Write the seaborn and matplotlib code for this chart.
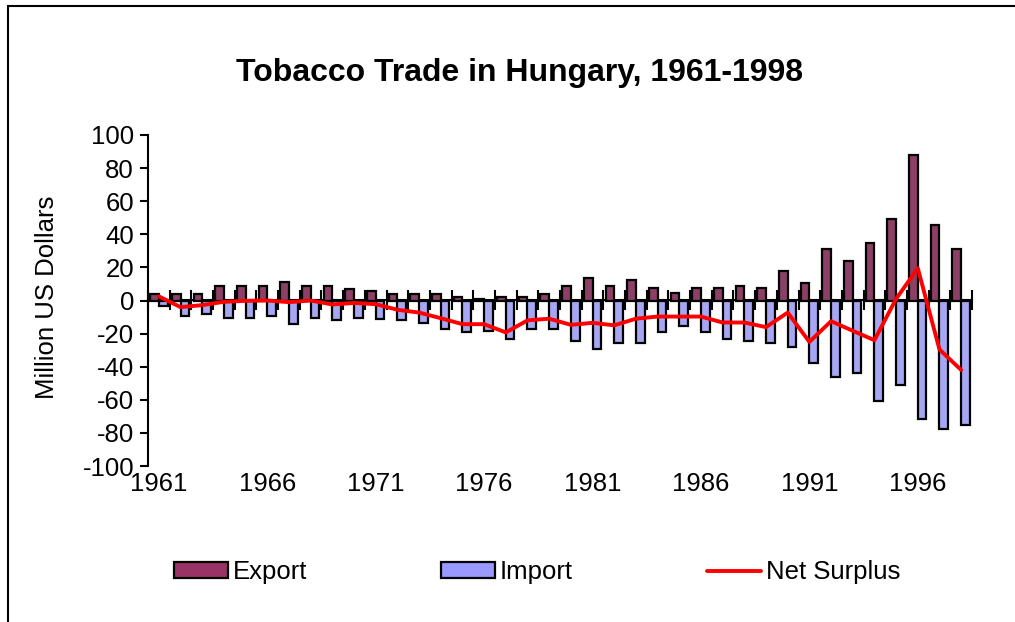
import numpy as np
import pandas as pd
import matplotlib
matplotlib.use("Agg")
import matplotlib.pyplot as plt
import seaborn as sns
from matplotlib.patches import Patch
from matplotlib.lines import Line2D

years = list(range(1961, 1999))
export = [4, 4, 4, 8.5, 8.5, 8.5, 11, 8.5, 8.5, 7,
          6, 3.8, 3.8, 3.8, 2.4, 1.2, 2.4, 2.4, 3.8, 8.5,
          13.5, 8.9, 12.3, 7.5, 4.8, 7.5, 7.5, 8.9, 7.5, 18,
          10.5, 31, 24, 34.7, 49, 88, 45.5, 31]
imports = [-3.3, -9.5, -8, -10.5, -10.5, -9.5, -14, -10.5, -11.6, -10.5,
           -11, -12, -13.3, -17, -19.3, -18.3, -23, -17, -17, -24.4,
           -29.4, -25.4, -25.4, -19.3, -15.7, -19.3, -23.4, -24.2, -25.4, -27.8,
           -37.7, -46.5, -43.9, -60.8, -51, -71.7, -77.7, -75.3]
net = [2.5, -4, -2.8, -0.8, -0.2, 0, -1, 0, -2.4, -1.5,
       -2.2, -5.6, -7.3, -10.7, -14.3, -14.3, -19.3, -12, -11, -14.7,
       -13.5, -15, -11, -9.7, -9.7, -9.7, -13.3, -13.3, -16.1, -7.3,
       -25, -12.5, -18.3, -24, 1, 19.5, -29.6, -42]
series = ["Export", "Import", "Net Surplus"]
colors = ["#993366", "#9999FF", "#FF0000"]

n = len(years)
df = pd.DataFrame({
    "year": [str(y) for y in years] * 2,
    "value": export + imports,
    "type": [series[0]] * n + [series[1]] * n,
})

sns.set_style("white")
plt.rcParams["font.family"] = ["Liberation Sans", "DejaVu Sans"]
for key in ["text.color", "axes.labelcolor", "xtick.color", "ytick.color"]:
    plt.rcParams[key] = "black"

fig = plt.figure(figsize=(10.15, 6.22), dpi=100)
ax = fig.add_axes([148 / 1015, 1 - 466 / 622, (972 - 148) / 1015, (466 - 135) / 622])

sns.barplot(data=df, x="year", y="value", hue="type", palette=colors[:2],
            edgecolor="black", linewidth=1.6, width=0.8, errorbar=None,
            legend=False, ax=ax)
sns.lineplot(x=np.arange(n), y=net, color=colors[2], linewidth=2.8, ax=ax, zorder=5)

ax.set_xlim(-0.5, n - 0.5)
ax.set_ylim(-100, 100)
yt = list(range(-100, 101, 20))
ax.set_yticks(yt)
ax.set_yticklabels([str(v) for v in yt])
ax.set_xticks(range(0, n, 5))
ax.set_xticklabels([str(y) for y in years[::5]])
ax.set_xlabel("")
ax.set_ylabel("")
ax.tick_params(axis="x", length=0, pad=4, labelsize=18.5)
ax.tick_params(axis="y", direction="out", length=6, width=1.5, pad=4, labelsize=18.5, left=True)
for s in ["top", "right", "bottom"]:
    ax.spines[s].set_visible(False)
ax.spines["left"].set_linewidth(1.5)
ax.spines["left"].set_color("black")

# category axis through zero with ticks between categories
sec = ax.secondary_xaxis(0.5)
sec.set_xticks(np.arange(-0.5, n, 1))
sec.set_xticklabels([])
sec.tick_params(direction="inout", length=14, width=1.5)
for s in sec.spines.values():
    s.set_linewidth(1.5)
    s.set_color("black")

fig.text(520 / 1015, 1 - 73 / 622, "Tobacco Trade in Hungary, 1961-1998",
         ha="center", va="center", fontsize=23, fontweight="bold")
fig.text(47 / 1015, 1 - 297 / 622, "Million US Dollars", rotation=90,
         ha="center", va="center", fontsize=18.5)

handles = [Patch(facecolor=colors[0], edgecolor="black", linewidth=1.6),
           Patch(facecolor=colors[1], edgecolor="black", linewidth=1.6),
           Line2D([], [], color=colors[2], linewidth=2.8)]
fig.legend(handles, series, ncol=3, loc="center",
           bbox_to_anchor=(537 / 1015, 1 - 572 / 622), frameon=False,
           fontsize=18.5, handlelength=2.1, handleheight=0.55,
           handletextpad=0.2, columnspacing=5.2)

# chart frame (left and top edges)
fig.add_artist(Line2D([8 / 1015, 8 / 1015], [0, 1 - 6 / 622], color="black",
                      linewidth=1.5, transform=fig.transFigure))
fig.add_artist(Line2D([8 / 1015, 1], [1 - 6 / 622, 1 - 6 / 622], color="black",
                      linewidth=1.5, transform=fig.transFigure))

fig.savefig("out.png", dpi=100)
